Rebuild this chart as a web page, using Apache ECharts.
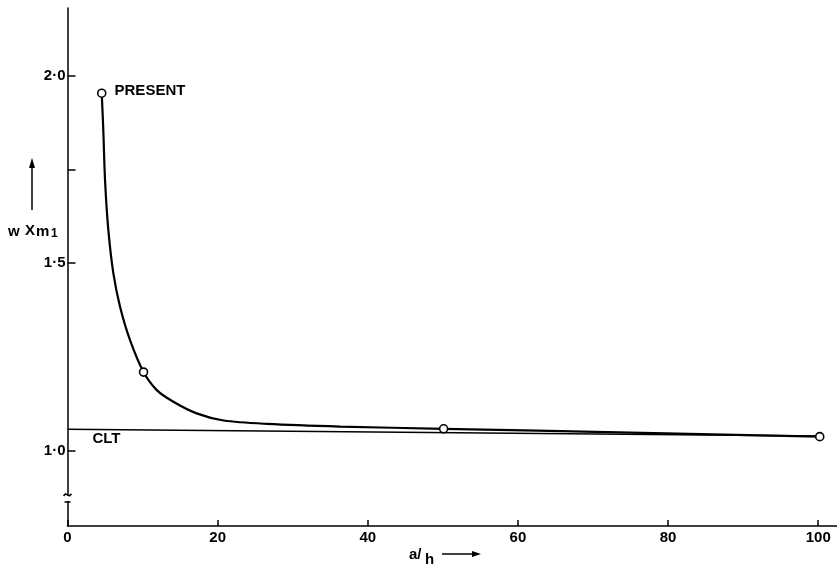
<!DOCTYPE html>
<html>
<head>
<meta charset="utf-8">
<script src="https://cdn.jsdelivr.net/npm/echarts@6/dist/echarts.min.js"></script>
<style>
html,body{margin:0;padding:0;background:#fff;}
#c{width:837px;height:567px;}
</style>
</head>
<body>
<div id="c"></div>
<script>
// Data
const xTickValues = [0, 20, 40, 60, 80, 100];
const yLabelValues = [1.0, 1.5, 2.0];
const yTickValues = [1.0, 1.5, 1.75, 2.0];
const curveX = [4.56, 4.77, 5.0, 5.44, 6.11, 7.0, 8.33, 10.13, 11.89, 14.1, 17.2, 20.8, 26.6, 36.3, 50.1, 75, 100.2];
const curveY = [1.953, 1.854, 1.721, 1.588, 1.473, 1.384, 1.295, 1.210, 1.162, 1.131, 1.100, 1.081, 1.072, 1.065, 1.059, 1.049, 1.038];
const pointX = [4.56, 10.13, 50.1, 100.2];
const pointY = [1.953, 1.210, 1.059, 1.038];
const cltX = [0, 100];
const cltY = [1.058, 1.040];
const breakY = [0.883, 0.864];

const FONT = 'Liberation Sans';
const chart = echarts.init(document.getElementById('c'), null, {renderer: 'canvas'});

const curveData = curveX.map((x, i) => [x, curveY[i]]);
const pointData = pointX.map((x, i) => {
  const d = {value: [x, pointY[i]]};
  if (i === 0) {
    d.label = {show: true, formatter: 'PRESENT', position: 'right', distance: 8, offset: [0, -2],
      fontFamily: FONT, fontSize: 15, fontWeight: 'bold', color: '#000'};
  }
  return d;
});
const cltData = cltX.map((x, i) => {
  const d = {value: [x, cltY[i]]};
  if (i === 0) {
    d.label = {show: true, formatter: 'CLT', position: 'bottom', distance: 2, offset: [39, 0],
      fontFamily: FONT, fontSize: 15, fontWeight: 'bold', color: '#000'};
  }
  return d;
});

chart.setOption({
  animation: false,
  backgroundColor: '#fff',
  grid: {left: 67.5, right: 0, top: 8, bottom: 41, containLabel: false},
  xAxis: {
    type: 'value', min: 0, max: 102.5,
    axisLine: {show: true, lineStyle: {color: '#000', width: 1.5}},
    axisTick: {show: true, inside: true, length: 6, customValues: xTickValues, lineStyle: {color: '#000', width: 1.5}},
    axisLabel: {customValues: xTickValues, margin: 4, fontFamily: FONT, fontSize: 15, fontWeight: 'bold', color: '#000'},
    splitLine: {show: false}
  },
  yAxis: {
    type: 'value', min: 0.8, max: 2.18,
    axisLine: {show: true, lineStyle: {color: '#000', width: 1.5}},
    axisTick: {show: true, inside: true, length: 8, customValues: yTickValues, lineStyle: {color: '#000', width: 1.5}},
    axisLabel: {customValues: yLabelValues, margin: 2, fontFamily: FONT, fontSize: 15, fontWeight: 'bold', color: '#000',
      formatter: v => v.toFixed(1).replace('.', '\u00b7')},
    splitLine: {show: false}
  },
  series: [
    {
      name: 'CLT', type: 'line', data: cltData, showSymbol: true, symbol: 'circle', symbolSize: 1,
      itemStyle: {color: 'rgba(0,0,0,0)'},
      lineStyle: {color: '#000', width: 1.5}, z: 2
    },
    {
      name: 'Present', type: 'line', data: curveData, smooth: 0.3, showSymbol: false,
      lineStyle: {color: '#000', width: 2.2}, z: 3
    },
    {
      name: 'Points', type: 'scatter', data: pointData, symbol: 'circle', symbolSize: 8,
      itemStyle: {color: '#fff', borderColor: '#000', borderWidth: 1.6, opacity: 1}, z: 5
    }
  ]
});

// Axis break marks and axis titles
const pTop = chart.convertToPixel({gridIndex: 0}, [0, breakY[0]]);
const pBot = chart.convertToPixel({gridIndex: 0}, [0, breakY[1]]);
const ax = pTop[0];
const F = 'bold 15px "Liberation Sans"';
chart.setOption({
  graphic: [
    {type: 'rect', shape: {x: ax - 4, y: pTop[1] + 1, width: 8, height: pBot[1] - pTop[1] - 2}, style: {fill: '#fff'}, z: 100},
    {type: 'polyline', shape: {points: [[ax - 4, pTop[1] + 1], [ax - 2, pTop[1] - 1], [ax, pTop[1]], [ax + 2, pTop[1] + 1], [ax + 4, pTop[1] - 1]]},
      style: {stroke: '#000', lineWidth: 1.5, fill: null}, z: 101},
    {type: 'line', shape: {x1: ax - 3, y1: pBot[1], x2: ax + 3, y2: pBot[1]}, style: {stroke: '#000', lineWidth: 1.5}, z: 101},
    // y axis title: w X m1 with arrow
    {type: 'line', shape: {x1: 32, y1: 210, x2: 32, y2: 164}, style: {stroke: '#000', lineWidth: 1.5}, z: 50},
    {type: 'polygon', shape: {points: [[32, 158], [29, 168], [35, 168]]}, style: {fill: '#000'}, z: 50},
    {type: 'text', x: 8, y: 232, style: {text: 'w', font: F, fill: '#000', verticalAlign: 'middle'}, z: 50},
    {type: 'text', x: 25, y: 231, style: {text: 'X', font: F, fill: '#000', verticalAlign: 'middle'}, z: 50},
    {type: 'text', x: 36, y: 232, style: {text: 'm', font: F, fill: '#000', verticalAlign: 'middle'}, z: 50},
    {type: 'text', x: 51, y: 234, style: {text: '1', font: 'bold 12px "Liberation Sans"', fill: '#000', verticalAlign: 'middle'}, z: 50},
    // x axis title: a/h with arrow
    {type: 'text', x: 409, y: 555, style: {text: 'a/', font: F, fill: '#000', verticalAlign: 'middle'}, z: 50},
    {type: 'text', x: 425, y: 560, style: {text: 'h', font: F, fill: '#000', verticalAlign: 'middle'}, z: 50},
    {type: 'line', shape: {x1: 442, y1: 554, x2: 474, y2: 554}, style: {stroke: '#000', lineWidth: 1.5}, z: 50},
    {type: 'polygon', shape: {points: [[481, 554], [472, 551], [472, 557]]}, style: {fill: '#000'}, z: 50}
  ]
});
</script>
</body>
</html>
